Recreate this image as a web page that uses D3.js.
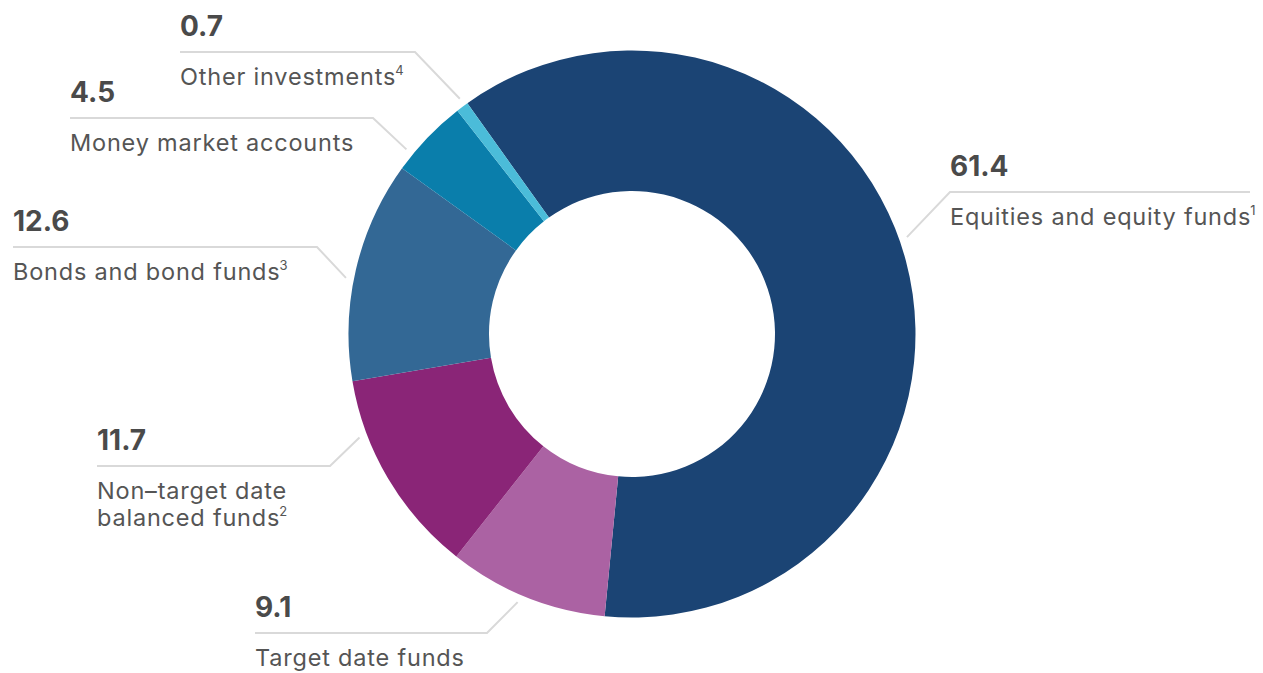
<!DOCTYPE html>
<html>
<head>
<meta charset="utf-8">
<script src="https://cdn.jsdelivr.net/npm/d3@7"></script>
<style>
  html, body { margin: 0; padding: 0; background: #ffffff; }
  svg { display: block; }
  .val { font-family: Inter, "Open Sans", sans-serif; font-weight: 700; fill: #4a4a4a; }
  .lab { font-family: Inter, "Open Sans", sans-serif; font-weight: 400; fill: #555555; letter-spacing: 0.8px; }
  .sup { letter-spacing: 0; }
</style>
</head>
<body>
<svg id="chart" width="1263" height="673"></svg>
<script>
// Asset allocation shares (percent), clockwise from the top-left
const categories = [
  "Equities and equity funds",
  "Target date funds",
  "Non\u2013target date balanced funds",
  "Bonds and bond funds",
  "Money market accounts",
  "Other investments"
];
const shares = [61.4, 9.1, 11.7, 12.6, 4.5, 0.7];
const footnotes = ["1", "", "2", "3", "", "4"];
const colors = ["#1b4474", "#ab62a3", "#8a2577", "#336895", "#0a7eab", "#4bbcd9"];

// Label text broken into lines as set beside each slice
const labelLines = [
  ["Equities and equity funds"],
  ["Target date funds"],
  ["Non\u2013target date", "balanced funds"],
  ["Bonds and bond funds"],
  ["Money market accounts"],
  ["Other investments"]
];

// Callout layout: angle where the leader meets the ring (deg), elbow point,
// and the far end of the horizontal rule
const callouts = [
  { angle: 70.6,   elbowX: 950, ruleY: 192, endX: 1250, side: "right" },
  { angle: 203.1,  elbowX: 487, ruleY: 633, endX: 255,  side: "left" },
  { angle: -110.8, elbowX: 330, ruleY: 466, endX: 97,   side: "left" },
  { angle: -78.9,  elbowX: 317, ruleY: 247, endX: 13,   side: "left" },
  { angle: -50.7,  elbowX: 373, ruleY: 118, endX: 70,   side: "left" },
  { angle: -36.2,  elbowX: 415, ruleY: 52,  endX: 180,  side: "left" }
];

const cx = 632, cy = 334;
const outerR = 283.5, innerR = 143;
const startDeg = -35.5;
const rad = d => d * Math.PI / 180;

const svg = d3.select("#chart");
const g = svg.append("g").attr("transform", `translate(${cx},${cy})`);

const pie = d3.pie()
  .value(d => d)
  .sort(null)
  .startAngle(rad(startDeg))
  .endAngle(rad(startDeg + 360));

const arc = d3.arc().innerRadius(innerR).outerRadius(outerR);

g.selectAll("path.slice")
  .data(pie(shares))
  .join("path")
  .attr("class", "slice")
  .attr("d", arc)
  .attr("fill", (d, i) => colors[i]);

// Leader lines and labels
const ring = outerR + 8;
const valueFmt = d3.format(".1f");

callouts.forEach((c, i) => {
  const a = rad(c.angle);
  const px = cx + ring * Math.sin(a);
  const py = cy - ring * Math.cos(a);

  svg.append("polyline")
    .attr("points", [[px, py], [c.elbowX, c.ruleY], [c.endX, c.ruleY]].map(p => p.join(",")).join(" "))
    .attr("fill", "none")
    .attr("stroke", "#d9d9d9")
    .attr("stroke-width", 2);

  const textX = c.side === "right" ? c.elbowX : c.endX;

  svg.append("text")
    .attr("class", "val")
    .attr("x", textX)
    .attr("y", c.ruleY - 16)
    .attr("font-size", 28)
    .text(valueFmt(shares[i]));

  labelLines[i].forEach((line, k) => {
    const t = svg.append("text")
      .attr("class", "lab")
      .attr("x", textX)
      .attr("y", c.ruleY + 33 + k * 27)
      .attr("font-size", 23.5);
    t.append("tspan").text(line);
    if (k === labelLines[i].length - 1 && footnotes[i]) {
      t.append("tspan")
        .attr("class", "sup")
        .attr("font-size", 13)
        .attr("dy", -10)
        .attr("dx", -1)
        .text(footnotes[i]);
    }
  });
});
</script>
</body>
</html>
